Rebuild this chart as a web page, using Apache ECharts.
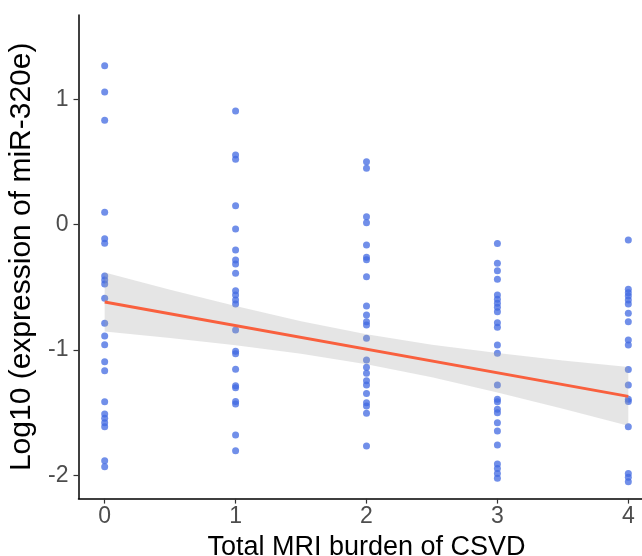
<!DOCTYPE html>
<html><head><meta charset="utf-8">
<script src="https://cdn.jsdelivr.net/npm/echarts@6/dist/echarts.min.js"></script>
<style>html,body{margin:0;padding:0;background:#fff}#c{width:642px;height:556px}</style>
</head><body><div id="c"></div>
<script>
const burdenLevels = [0, 1, 2, 3, 4];
const level0 = [1.268, 1.058, 0.832, 0.099, -0.112, -0.148, -0.409, -0.441, -0.473, -0.587, -0.786, -0.888, -0.957, -1.092, -1.164, -1.411, -1.51, -1.544, -1.579, -1.611, -1.882, -1.93];
const level1 = [0.907, 0.556, 0.521, 0.152, -0.034, -0.202, -0.282, -0.314, -0.388, -0.526, -0.561, -0.6, -0.632, -0.84, -1.01, -1.03, -1.153, -1.285, -1.30, -1.41, -1.43, -1.677, -1.802];
const level2 = [0.502, 0.45, 0.064, 0.016, -0.162, -0.26, -0.28, -0.415, -0.648, -0.72, -0.773, -0.8, -0.906, -1.079, -1.137, -1.185, -1.244, -1.278, -1.345, -1.419, -1.446, -1.504, -1.765];
const level3 = [-0.149, -0.308, -0.367, -0.436, -0.561, -0.595, -0.627, -0.659, -0.694, -0.781, -0.818, -0.959, -1.026, -1.278, -1.392, -1.411, -1.472, -1.499, -1.579, -1.645, -1.757, -1.908, -1.943, -1.983, -2.022];
const level4 = [-0.122, -0.515, -0.542, -0.569, -0.6, -0.632, -0.707, -0.773, -0.919, -0.959, -1.155, -1.278, -1.392, -1.41, -1.611, -1.983, -2.014, -2.049];
const fitX = [0, 4];
const fitY = [-0.617, -1.369];
const bandX = [0, 0.5, 1, 1.5, 2, 2.5, 3, 3.5, 4];
const bandUpper = [-0.382, -0.518, -0.648, -0.769, -0.873, -0.957, -1.024, -1.082, -1.134];
const bandLower = [-0.852, -0.904, -0.962, -1.029, -1.113, -1.217, -1.338, -1.468, -1.604];
const xTicks = [0, 1, 2, 3, 4];
const yTicks = [-2, -1, 0, 1];
const xTitle = 'Total MRI burden of CSVD';
const yTitle = 'Log10 (expression of miR-320e)';

const groups = [level0, level1, level2, level3, level4];
const scatterData = [];
burdenLevels.forEach((x, i) => groups[i].forEach(v => scatterData.push([x, v])));

const FONT = '"Liberation Sans", Arial, sans-serif';
const chart = echarts.init(document.getElementById('c'), null, {renderer: 'canvas'});
chart.setOption({
  animation: false,
  backgroundColor: '#fff',
  grid: {left: 78.5, top: 15, width: 576, height: 483.6, containLabel: false, outerBoundsMode: 'none'},
  xAxis: {
    type: 'value', min: -0.2, max: 4.2,
    name: xTitle, nameLocation: 'middle', nameGap: 35,
    nameTextStyle: {color: '#000', fontSize: 27, fontFamily: FONT},
    axisLine: {show: true, onZero: false, lineStyle: {color: '#000', width: 1.5}},
    axisTick: {show: true, length: 5, customValues: xTicks, lineStyle: {color: '#333', width: 1.2}},
    axisLabel: {customValues: xTicks, color: '#4D4D4D', fontSize: 23, fontFamily: FONT, margin: 7},
    splitLine: {show: false}
  },
  yAxis: {
    type: 'value', min: -2.184, max: 1.672,
    name: yTitle, nameLocation: 'middle', nameGap: 26, nameRotate: 90,
    nameTextStyle: {color: '#000', fontSize: 30, fontFamily: FONT},
    axisLine: {show: true, onZero: false, lineStyle: {color: '#000', width: 1.5}},
    axisTick: {show: true, length: 5, customValues: yTicks, lineStyle: {color: '#333', width: 1.2}},
    axisLabel: {customValues: yTicks, color: '#4D4D4D', fontSize: 23, fontFamily: FONT, margin: 10},
    splitLine: {show: false}
  },
  series: [
    {
      type: 'scatter', data: scatterData, symbolSize: 7,
      itemStyle: {color: '#4169E1', opacity: 0.75}
    },
    {
      type: 'custom', data: [[0, 0]], silent: true, z: 3,
      renderItem: function (params, api) {
        const pts = [];
        for (let i = 0; i < bandX.length; i++) pts.push(api.coord([bandX[i], bandUpper[i]]));
        for (let i = bandX.length - 1; i >= 0; i--) pts.push(api.coord([bandX[i], bandLower[i]]));
        return {type: 'polygon', shape: {points: pts}, style: {fill: 'rgba(160,160,160,0.28)'}};
      }
    },
    {
      type: 'line', data: fitX.map((x, i) => [x, fitY[i]]), z: 4,
      symbol: 'none', lineStyle: {color: '#F9603E', width: 3}
    }
  ]
});
</script></body></html>
